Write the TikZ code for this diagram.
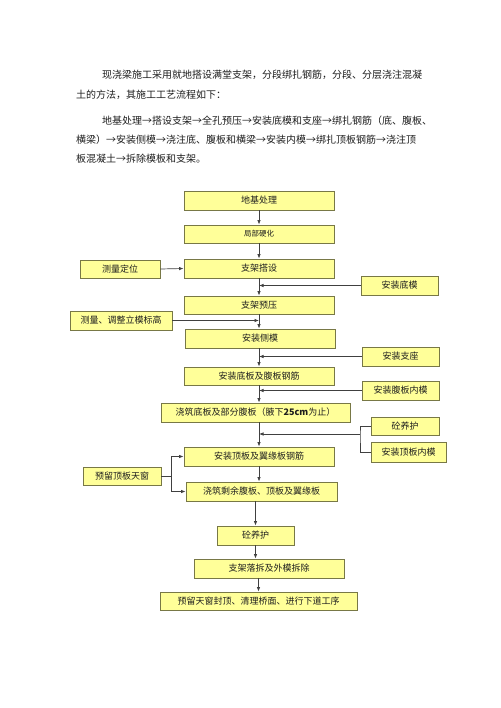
\documentclass[tikz,border=0pt]{standalone}
\usepackage{fontspec}
\usetikzlibrary{arrows.meta}
\newfontfamily\cjk{Noto Sans CJK SC}
\definecolor{boxfill}{RGB}{255,255,153}
\definecolor{boxline}{RGB}{120,120,70}
\definecolor{txt}{RGB}{30,30,30}
\tikzset{
  flowbox/.style={draw=boxline, fill=boxfill, line width=0.9pt, inner sep=0pt,
    font=\cjk\fontsize{9}{10}\selectfont, text=txt},
  para/.style={anchor=west, inner sep=0pt, font=\cjk\fontsize{10}{12}\selectfont, text=txt},
  conn/.style={draw=black!75, line width=0.7pt},
  arr/.style={conn, -{Latex[length=4.5pt,width=3.5pt]}}
}
\begin{document}
\begin{tikzpicture}[x=1pt,y=-1pt]
\useasboundingbox[fill=white] (0,0) rectangle (500,708);
% paragraph
\node[para] (p1) at (102,75) {现浇梁施工采用就地搭设满堂支架，分段绑扎钢筋，分段、分层浇注混凝};
\node[para] (p2) at (76,95) {土的方法，其施工工艺流程如下：};
\node[para] (p3) at (102,121) {地基处理→搭设支架→全孔预压→安装底模和支座→绑扎钢筋（底、腹板、};
\node[para] (p4) at (76,140) {横梁）→安装侧模→浇注底、腹板和横梁→安装内模→绑扎顶板钢筋→浇注顶};
\node[para] (p5) at (76,159) {板混凝土→拆除模板和支架。};
% boxes
\node[flowbox, minimum width=150pt, minimum height=19pt] (b1) at (259,200.5) {地基处理};
\node[flowbox, minimum width=150pt, minimum height=18pt, font=\cjk\fontsize{7.5}{9}\selectfont] (b2) at (259,234) {局部硬化};
\node[flowbox, minimum width=80pt, minimum height=18pt] (b3) at (120,269) {测量定位};
\node[flowbox, minimum width=150pt, minimum height=19pt] (b4) at (259,268.5) {支架搭设};
\node[flowbox, minimum width=77pt, minimum height=19pt] (b5) at (399.5,285.5) {安装底模};
\node[flowbox, minimum width=150pt, minimum height=18pt] (b6) at (259,305) {支架预压};
\node[flowbox, minimum width=102pt, minimum height=19pt] (b7) at (121,320.5) {测量、调整立模标高};
\node[flowbox, minimum width=150pt, minimum height=19pt] (b8) at (260,338.5) {安装侧模};
\node[flowbox, minimum width=77pt, minimum height=19pt] (b9) at (400.5,356.5) {安装支座};
\node[flowbox, minimum width=150pt, minimum height=18pt] (b10) at (259,376) {安装底板及腹板钢筋};
\node[flowbox, minimum width=77pt, minimum height=19pt] (b11) at (400.5,390.5) {安装腹板内模};
\node[flowbox, minimum width=189pt, minimum height=19pt] (b12) at (255.5,412.5) {浇筑底板及部分腹板（腋下\textbf{25cm}为止）};
\node[flowbox, minimum width=68pt, minimum height=18pt] (b13) at (405,426) {砼养护};
\node[flowbox, minimum width=75pt, minimum height=20pt] (b14) at (408.5,452) {安装顶板内模};
\node[flowbox, minimum width=150pt, minimum height=19pt] (b15) at (259,456.5) {安装顶板及翼缘板钢筋};
\node[flowbox, minimum width=78pt, minimum height=18pt] (b16) at (122,476) {预留顶板天窗};
\node[flowbox, minimum width=151pt, minimum height=19pt] (b17) at (261.5,491.5) {浇筑剩余腹板、顶板及翼缘板};
\node[flowbox, minimum width=77pt, minimum height=19pt] (b18) at (255.5,535.5) {砼养护};
\node[flowbox, minimum width=150pt, minimum height=19pt] (b19) at (269,568.5) {支架落拆及外模拆除};
\node[flowbox, minimum width=197pt, minimum height=18pt] (b20) at (258.5,601) {预留天窗封顶、清理桥面、进行下道工序};
% main flow
\draw[arr] (b1.south) -- (b2.north);
\draw[arr] (b2.south) -- (b4.north);
\draw[arr] (b3.east) -- (b4.west);
\draw[arr] (b4.south) -- (b6.north);
\draw[arr] (b5.west) -- (b5.west -| b4.south);
\draw[arr] (b6.south) -- (b6.south |- b8.north);
\draw[arr] (b7.east) -- (b7.east -| b6.south);
\draw[arr] (b8.south -| b10.north) -- (b10.north);
\draw[arr] (b9.west) -- (b9.west -| b10.north);
\draw[arr] (b10.south) -- (b10.south |- b12.north);
\draw[arr] (b11.west) -- (b11.west -| b10.south);
\draw[arr] (b12.south -| b15.north) -- (b15.north);
\coordinate (jr) at (360,434);
\draw[conn] (b13.west) -| (jr) |- (b14.west);
\draw[arr] (jr) -- (jr -| b15.north);
\coordinate (jl) at (171,476);
\draw[conn] (b16.east) -- (jl);
\draw[arr] (jl) |- (b15.west);
\draw[arr] (jl) |- (b17.west);
\draw[arr] (b15.south) -- (b15.south |- b17.north);
\draw[arr] (b17.south -| b18.north) -- (b18.north);
\draw[arr] (b18.south) -- (b18.south |- b19.north);
\draw[arr] (b19.south -| b20.north) -- (b20.north);
\end{tikzpicture}
\end{document}
